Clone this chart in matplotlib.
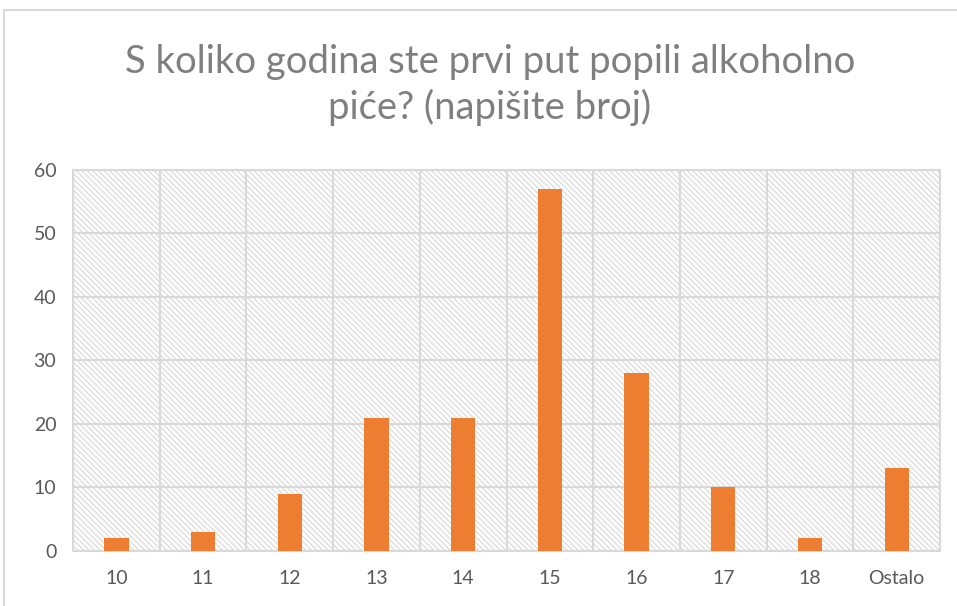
import matplotlib.pyplot as plt
import matplotlib.patches as mpatches
import numpy as np

plt.rcParams['font.family'] = ['Lato', 'DejaVu Sans']
plt.rcParams['hatch.color'] = '#dedede'
plt.rcParams['hatch.linewidth'] = 1.0

categories = ['10', '11', '12', '13', '14', '15', '16', '17', '18', 'Ostalo']
counts = [2, 3, 9, 21, 21, 57, 28, 10, 2, 13]
title = 'S koliko godina ste prvi put popili alkoholno\npiće? (napišite broj)'

grid_color = '#d9d9d9'
text_color = '#595959'
title_color = '#7f7f7f'
bar_color = '#ed7d31'

fig = plt.figure(figsize=(9.57, 6.06), dpi=100)
ax = fig.add_axes([0.0763, 0.0908, 0.906, 0.629])

# chart outer border
fig.patches.append(mpatches.Rectangle((4 / 957, -0.05), 1.1, 1 - 10 / 606 + 0.05,
                                      transform=fig.transFigure, fill=False,
                                      edgecolor=grid_color, linewidth=1.5))

x = np.arange(len(categories))
ax.set_facecolor('white')
ax.patch.set_hatch('\\\\\\\\\\\\')
ax.patch.set_edgecolor('#dedede')
ax.bar(x, counts, width=0.28, color=bar_color, zorder=3)

ax.set_xlim(-0.5, len(categories) - 0.5)
ax.set_ylim(0, 60)
ax.set_yticks(range(0, 61, 10))
ax.set_xticks(x)
ax.set_xticklabels(categories)
ax.set_xticks(np.arange(-0.5, len(categories), 1), minor=True)

ax.grid(axis='y', which='major', color=grid_color, linewidth=1.5, zorder=1)
ax.grid(axis='x', which='minor', color=grid_color, linewidth=1.5, zorder=1)
ax.set_axisbelow(True)
for s in ax.spines.values():
    s.set_color(grid_color)
    s.set_linewidth(1.5)

ax.tick_params(axis='both', which='both', length=0, labelsize=14, colors=text_color)
ax.tick_params(axis='x', pad=14)
ax.tick_params(axis='y', pad=12)

fig.text(0.512, 0.860, title, ha='center', va='center', fontsize=27.5,
         color=title_color, linespacing=1.3)

fig.savefig('out.png', dpi=100)
